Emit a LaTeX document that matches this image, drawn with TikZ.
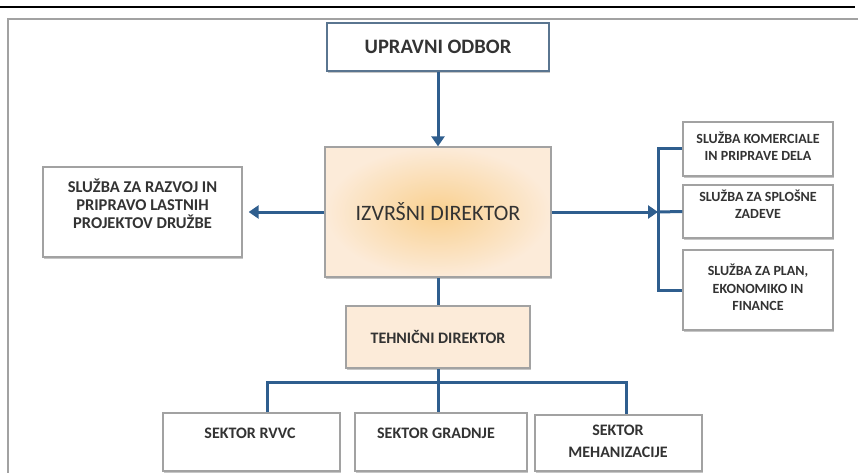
\documentclass[tikz,border=0pt]{standalone}
\usepackage{fontspec}
\setmainfont{Carlito}
\usepackage{xcolor}
\usepackage{tikz}
\usetikzlibrary{positioning,arrows.meta,shadows}
\definecolor{linkblue}{HTML}{2F5E8E}
\definecolor{boxgray}{HTML}{A2A2A2}
\definecolor{txtgray}{HTML}{333333}
\definecolor{peach}{HTML}{FCEBD9}
\definecolor{amber}{HTML}{F9D08F}
\definecolor{slateline}{HTML}{5A7590}
\tikzset{
  unitbox/.style={rectangle, draw=boxgray, line width=1.3pt, fill=white,
    drop shadow={shadow xshift=0.6pt, shadow yshift=-1.6pt, fill=black!50, opacity=0.45}},
  link/.style={draw=linkblue, line width=3pt},
  linkarrow/.style={link, -{Triangle[length=10pt,width=13pt]}},
  lbl/.style={text=txtgray, align=center},
}

\begin{document}
\begin{tikzpicture}[x=1pt, y=-1pt]
\useasboundingbox (0,0) rectangle (858,473);
% page frame
\draw[line width=1.8pt] (0,7) -- (855,7);
\draw[boxgray, line width=2pt] (7.5,473) -- (7.5,19) -- (858,19);

% Upravni odbor
\node[unitbox, draw=slateline, minimum width=222pt, minimum height=48pt, lbl,
  font=\bfseries\fontsize{20.5}{24}\selectfont] (odbor) at (438,47) {UPRAVNI ODBOR};
% Izvrsni direktor
\node[unitbox, inner color=amber, outer color=peach, minimum width=226pt, minimum height=130pt, lbl,
  font=\fontsize{22}{26}\selectfont] (izvrsni) at (438,212) {IZVRŠNI DIREKTOR};
% Tehnicni direktor
\node[unitbox, fill=peach, minimum width=184pt, minimum height=62pt, lbl,
  font=\bfseries\fontsize{16}{18}\selectfont] (tehnicni) at (438,337) {TEHNIČNI DIREKTOR};

% Sluzba za razvoj (left)
\node[unitbox, minimum width=199pt, minimum height=90pt] (razvoj) at (142.5,212) {};
\node[lbl, font=\bfseries\fontsize{16.5}{18}\selectfont] (razvoj-txt) at (142.5,204)
  {SLUŽBA ZA RAZVOJ IN\\PRIPRAVO LASTNIH\\PROJEKTOV DRUŽBE};

% Sluzbe (right)
\node[unitbox, minimum width=150pt, minimum height=54pt] (komerc) at (758,149) {};
\node[lbl, font=\bfseries\fontsize{14}{17.5}\selectfont] (komerc-txt) at (758,146)
  {SLUŽBA KOMERCIALE\\IN PRIPRAVE DELA};
\node[unitbox, minimum width=150pt, minimum height=53pt] (splosne) at (758,211.5) {};
\node[lbl, font=\bfseries\fontsize{14}{17.5}\selectfont] (splosne-txt) at (758,204)
  {SLUŽBA ZA SPLOŠNE\\ZADEVE};
\node[unitbox, minimum width=150pt, minimum height=80pt] (plan) at (758,290) {};
\node[lbl, font=\bfseries\fontsize{14}{17.5}\selectfont] (plan-txt) at (758,287.5)
  {SLUŽBA ZA PLAN,\\EKONOMIKO IN\\FINANCE};

% Sektorji (bottom)
\node[unitbox, minimum width=177pt, minimum height=58pt] (rvvc) at (251.5,442) {};
\node[lbl, font=\bfseries\fontsize{16}{22}\selectfont] (rvvc-txt) at (250,433) {SEKTOR RVVC};
\node[unitbox, minimum width=172pt, minimum height=58pt] (gradnje) at (441,442) {};
\node[lbl, font=\bfseries\fontsize{16}{22}\selectfont] (gradnje-txt) at (436,433) {SEKTOR GRADNJE};
\node[unitbox, minimum width=167pt, minimum height=56pt] (mehan) at (618.5,443) {};
\node[lbl, font=\bfseries\fontsize{16}{22}\selectfont] (mehan-txt) at (618,441) {SEKTOR\\MEHANIZACIJE};

% connectors
\coordinate (fork) at (658,212);
\coordinate (bus) at (438,382);
\coordinate (bus-l) at (267,382);
\coordinate (bus-r) at (626,382);
\draw[linkarrow] (odbor.south) -- (izvrsni.north);
\draw[linkarrow, shorten >=6pt] (izvrsni.west) -- (razvoj.east);
\draw[linkarrow] (izvrsni.east) -- (fork);
\draw[link] (komerc.west) -- (komerc.west -| fork) -- (plan.west -| fork) -- (plan.west);
\draw[link] (fork) -- (splosne.west);
\draw[link] (izvrsni.south) -- (tehnicni.north);
\draw[link] (tehnicni.south) -- (bus);
\draw[link] (rvvc.north -| bus-l) -- (bus-l) -- (bus-r) -- (mehan.north -| bus-r);
\draw[link] (bus) -- (gradnje.north -| bus);
\end{tikzpicture}
\end{document}
